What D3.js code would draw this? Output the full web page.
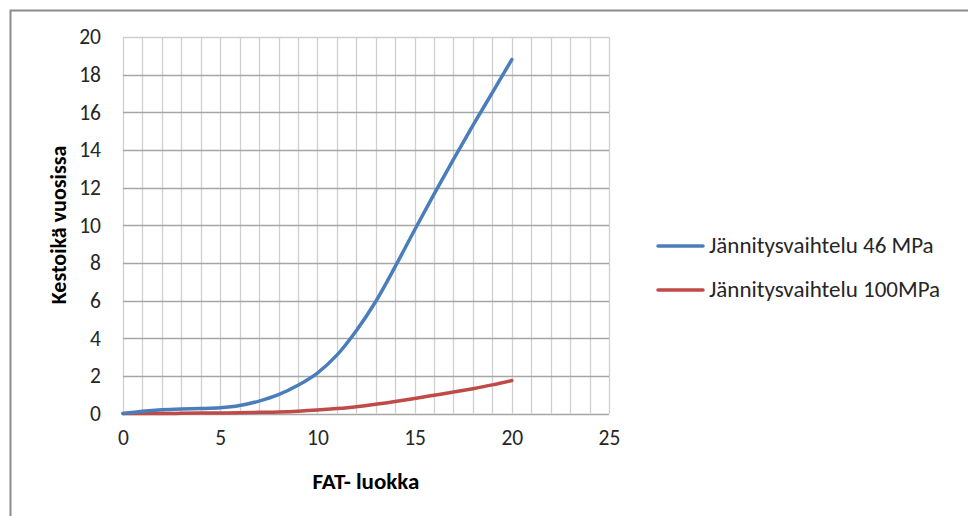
<!DOCTYPE html>
<html>
<head>
<meta charset="utf-8">
<script src="https://cdn.jsdelivr.net/npm/d3@7"></script>
<style>
  html, body { margin: 0; padding: 0; background: #fff; }
  svg { display: block; font-family: Carlito, Lato, "Liberation Sans", sans-serif; }
</style>
</head>
<body>
<svg id="chart" width="968" height="516"></svg>
<script>
// FAT class (x) and service life in years for the two stress ranges
const fatClass = [0, 1, 2, 3, 4, 5, 6, 7, 8, 9, 10, 11, 12, 13, 14, 15, 16, 17, 18, 19, 20];
const life46 = [0, 0.12, 0.2, 0.24, 0.26, 0.3, 0.42, 0.66, 1.0, 1.5, 2.15, 3.1, 4.4, 5.95, 7.8, 9.75, 11.65, 13.5, 15.3, 17.05, 18.8];
const life100 = [0, 0, 0, 0.01, 0.02, 0.03, 0.04, 0.06, 0.08, 0.12, 0.18, 0.26, 0.36, 0.49, 0.64, 0.8, 0.97, 1.14, 1.32, 1.52, 1.75];
const seriesNames = ["Jännitysvaihtelu 46 MPa", "Jännitysvaihtelu 100MPa"];
const seriesColors = ["#4a7ebb", "#be4b48"];
const xTicks = [0, 5, 10, 15, 20, 25];
const yTicks = [0, 2, 4, 6, 8, 10, 12, 14, 16, 18, 20];
const xTitle = "FAT- luokka";
const yTitle = "Kestoikä vuosissa";

const svg = d3.select("#chart");
const plot = { left: 123, right: 609, top: 37, bottom: 413.5 };
const font = "Carlito, Lato, 'Liberation Sans', sans-serif";

const x = d3.scaleLinear().domain([0, 25]).range([plot.left, plot.right]);
const y = d3.scaleLinear().domain([0, 20]).range([plot.bottom, plot.top]);

// outer chart frame (left and top edges visible)
svg.append("path")
  .attr("d", "M10.5,516 L10.5,10.5 L968,10.5")
  .attr("fill", "none").attr("stroke", "#8c8c8c").attr("stroke-width", 2);

// vertical minor gridlines every unit
svg.append("g").selectAll("line")
  .data(d3.range(0, 26))
  .join("line")
  .attr("x1", d => Math.round(x(d)) + 0.5).attr("x2", d => Math.round(x(d)) + 0.5)
  .attr("y1", plot.top).attr("y2", plot.bottom)
  .attr("stroke", "#cfcfcf").attr("stroke-width", 1.3);

// horizontal major gridlines
svg.append("g").selectAll("line")
  .data(yTicks)
  .join("line")
  .attr("x1", plot.left).attr("x2", plot.right)
  .attr("y1", d => Math.round(y(d)) + 0.5).attr("y2", d => Math.round(y(d)) + 0.5)
  .attr("stroke", d => d === 20 ? "#cfcfcf" : "#a6a6a6").attr("stroke-width", 1.3);

// tick labels via d3 axes
const yAxis = svg.append("g")
  .attr("transform", `translate(${plot.left},0)`)
  .call(d3.axisLeft(y).tickValues(yTicks).tickSize(0).tickPadding(22));
yAxis.select(".domain").remove();
yAxis.selectAll("text")
  .attr("font-size", 21.5).attr("fill", "#262626").attr("font-family", font);

const xAxis = svg.append("g")
  .attr("transform", `translate(0,${plot.bottom})`)
  .call(d3.axisBottom(x).tickValues(xTicks).tickSize(0).tickPadding(16));
xAxis.select(".domain").remove();
xAxis.selectAll("text")
  .attr("font-size", 21.5).attr("fill", "#262626").attr("font-family", font);

// axis titles
svg.append("text")
  .attr("x", 366).attr("y", 489)
  .attr("text-anchor", "middle")
  .attr("font-size", 23).attr("font-weight", "bold").attr("fill", "#000")
  .text(xTitle);

svg.append("text")
  .attr("transform", "translate(66,225) rotate(-90)")
  .attr("text-anchor", "middle")
  .attr("font-size", 22).attr("font-weight", "bold").attr("fill", "#000")
  .text(yTitle);

// series lines
const line = d3.line()
  .x((d, i) => x(fatClass[i]))
  .y(d => y(d))
  .curve(d3.curveCatmullRom.alpha(0.5));

[life100, life46].forEach((vals, k) => {
  const idx = k === 0 ? 1 : 0;
  svg.append("path")
    .datum(vals)
    .attr("d", line)
    .attr("fill", "none")
    .attr("stroke", seriesColors[idx])
    .attr("stroke-width", 3.5)
    .attr("stroke-linecap", "round")
    .attr("stroke-linejoin", "round");
});

// legend
const legend = svg.append("g");
seriesNames.forEach((name, i) => {
  const ly = 246 + i * 44;
  legend.append("line")
    .attr("x1", 658).attr("x2", 703)
    .attr("y1", ly).attr("y2", ly)
    .attr("stroke", seriesColors[i]).attr("stroke-width", 3.5)
    .attr("stroke-linecap", "round");
  legend.append("text")
    .attr("x", 709).attr("y", ly + 7)
    .attr("font-size", 23).attr("fill", "#262626").attr("font-family", font)
    .text(name);
});
</script>
</body>
</html>
